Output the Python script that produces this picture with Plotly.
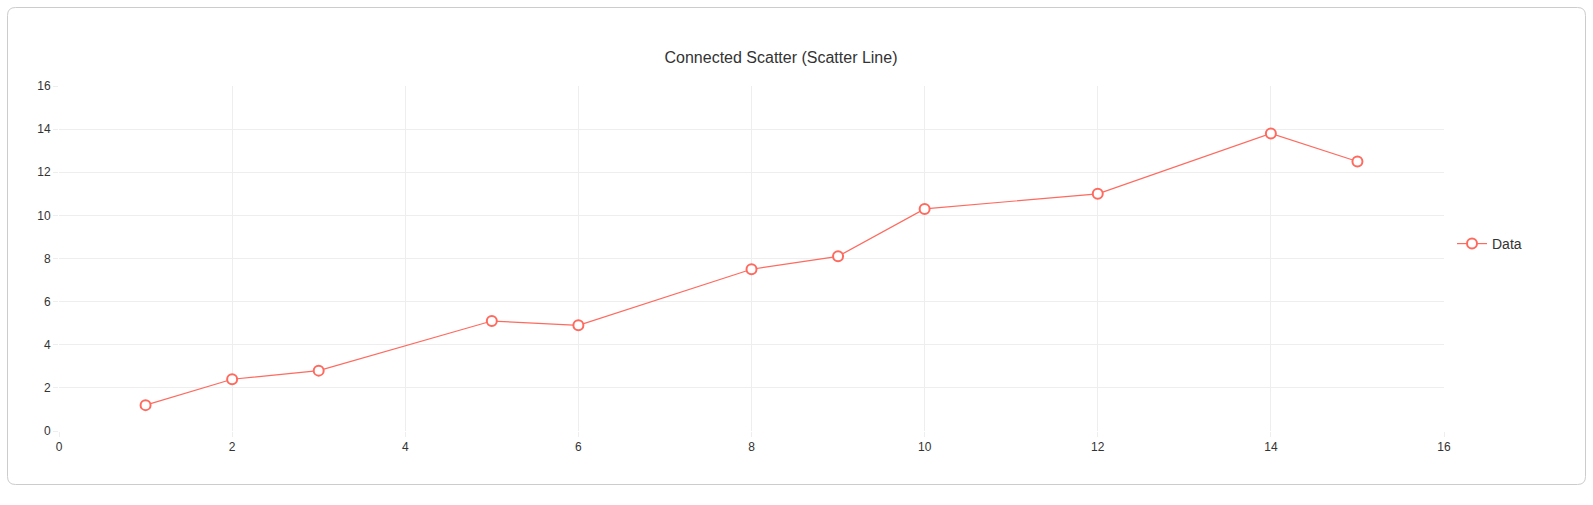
import plotly.graph_objects as go

# data
x_vals = [1, 2, 3, 5, 6, 8, 9, 10, 12, 14, 15]
y_vals = [1.2, 2.4, 2.8, 5.1, 4.9, 7.5, 8.1, 10.3, 11.0, 13.8, 12.5]
series_name = "Data"
chart_title = "Connected Scatter (Scatter Line)"

W, H = 1593, 505
L, R, T, B = 59, 149, 86, 74
pw, ph = W - L - R, H - T - B
red = "#ff6a5f"
grid = "#eeeeee"
txt = "#333333"


def px2paper(px, py):
    return (px - L) / pw, (H - B - py) / ph


# rounded card outline behind the chart
x0, y0, x1, y1, rad = 7.5, 7.5, 1585.5, 484.5, 8
pts = [
    ("M", x0 + rad, y0), ("L", x1 - rad, y0), ("Q", x1, y0, x1, y0 + rad),
    ("L", x1, y1 - rad), ("Q", x1, y1, x1 - rad, y1),
    ("L", x0 + rad, y1), ("Q", x0, y1, x0, y1 - rad),
    ("L", x0, y0 + rad), ("Q", x0, y0, x0 + rad, y0),
]
path = ""
for p in pts:
    cmd, coords = p[0], p[1:]
    conv = []
    for i in range(0, len(coords), 2):
        a, b = px2paper(coords[i], coords[i + 1])
        conv.append(f"{a:.5f},{b:.5f}")
    path += cmd + " ".join(conv) + " "
path += "Z"

fig = go.Figure()
fig.add_trace(go.Scatter(
    x=x_vals, y=y_vals, mode="lines+markers", name=series_name,
    line=dict(color=red, width=1.2),
    marker=dict(symbol="circle", size=10, color="white",
                line=dict(color=red, width=2)),
))

fig.update_layout(
    width=W, height=H,
    margin=dict(l=L, r=R, t=T, b=B),
    paper_bgcolor="white", plot_bgcolor="white",
    font=dict(family="Liberation Sans, Arial, sans-serif", color=txt, size=12),
    title=dict(text=chart_title, x=781 / W, xanchor="center", xref="container",
               y=1 - 57 / H, yanchor="middle", yref="container",
               font=dict(size=16, color=txt)),
    showlegend=True,
    legend=dict(x=(1452 - L) / pw, xanchor="left", y=(H - B - 244) / ph,
                yanchor="middle", font=dict(size=14, color=txt),
                bgcolor="rgba(0,0,0,0)"),
    shapes=[dict(type="path", xref="paper", yref="paper", path=path,
                 line=dict(color="#cccccc", width=1), layer="below")],
)
fig.update_xaxes(range=[0, 16], dtick=2, showgrid=True, gridcolor=grid,
                 zeroline=False, showline=False, ticks="outside", ticklen=5,
                 tickcolor=grid, tickfont=dict(size=12, color=txt))
fig.update_yaxes(range=[0, 16], dtick=2, showgrid=True, gridcolor=grid,
                 zeroline=False, showline=False, ticks="outside", ticklen=5,
                 tickcolor=grid, tickfont=dict(size=12, color=txt))

# drop the default body margin so the figure sits at the window's corner
fig.write_html("out.html", config={"displayModeBar": False},
               post_script="document.body.style.margin='0';document.body.style.overflow='hidden';")
